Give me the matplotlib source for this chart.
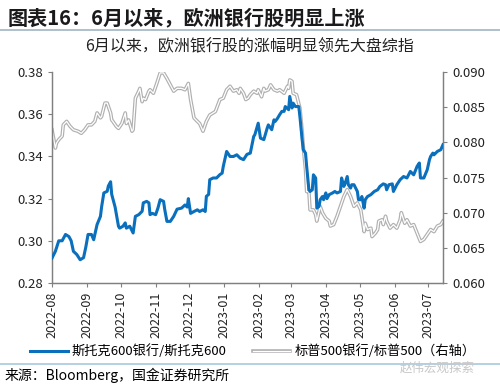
import datetime as dt
import matplotlib
matplotlib.use("Agg")
import matplotlib.pyplot as plt
import matplotlib.dates as mdates
from matplotlib.ticker import FuncFormatter

plt.rcParams['font.family'] = ['Noto Sans CJK SC', 'DejaVu Sans']

start = dt.date(2022, 8, 1)

# 斯托克600银行/斯托克600 (左轴)，横坐标为自 2022-08-01 起的天数
blue_days = [0, 3, 6, 9, 12, 15, 17, 19, 22, 25, 28, 30, 32, 35, 37, 40, 43, 44, 46, 49,
             50, 52, 53, 56, 59, 60, 63, 65, 66, 69, 72, 74, 77, 80, 81, 84, 86, 87, 89, 92,
             94, 96, 99, 100, 102, 105, 108, 111, 115, 118, 120, 121, 123, 126, 129, 131, 134, 136, 137, 139,
             140, 143, 146, 149, 151, 152, 155, 158, 161, 164, 167, 170, 173, 176, 179, 180, 183, 185, 188, 191,
             192, 195, 197, 198, 200, 202, 204, 206, 207, 210, 211, 213, 214, 216, 219, 220, 222, 223, 225, 226,
             228, 229, 231, 232, 234, 235, 237, 238, 240, 241, 243, 244, 246, 249, 251, 253, 256, 257, 259, 260,
             262, 263, 265, 266, 268, 271, 272, 274, 275, 277, 278, 280, 283, 286, 289, 291, 294, 296, 297, 299,
             302, 303, 306, 309, 312, 315, 318, 321, 324, 326, 327, 330, 333, 335, 336, 338, 339, 342, 345, 347]
blue_vals = [0.2918, 0.295, 0.300, 0.300, 0.303, 0.302, 0.300, 0.295, 0.2935, 0.291, 0.292, 0.297, 0.303, 0.303, 0.3005, 0.3077, 0.3116, 0.316, 0.3227, 0.3235,
             0.326, 0.328, 0.322, 0.316, 0.3069, 0.306, 0.3069, 0.3085, 0.306, 0.3069, 0.3037, 0.3116, 0.3124, 0.314, 0.318, 0.3187, 0.318, 0.3124, 0.313, 0.3124,
             0.3155, 0.3195, 0.3187, 0.315, 0.3092, 0.3092, 0.3116, 0.315, 0.3155, 0.317, 0.316, 0.320, 0.313, 0.3139, 0.3147, 0.3139, 0.3147, 0.3139, 0.3211, 0.322,
             0.329, 0.3298, 0.3298, 0.3314, 0.3321, 0.3353, 0.3424, 0.340, 0.340, 0.3408, 0.3392, 0.3385, 0.341, 0.3416, 0.3495, 0.3503, 0.3558, 0.3487, 0.348, 0.3535,
             0.355, 0.3527, 0.3574, 0.3566, 0.358, 0.3598, 0.3614, 0.3614, 0.3637, 0.3622, 0.3685, 0.363, 0.3653, 0.3637, 0.3637, 0.359, 0.348, 0.3432, 0.3416, 0.3353,
             0.3242, 0.3234, 0.3242, 0.3313, 0.3298, 0.3155, 0.3163, 0.3195, 0.321, 0.3195, 0.3227, 0.320, 0.3219, 0.3227, 0.3234, 0.3227, 0.3234, 0.3298, 0.3258, 0.327,
             0.3305, 0.3266, 0.325, 0.3266, 0.3266, 0.3234, 0.3195, 0.3195, 0.321, 0.3155, 0.3195, 0.321, 0.3219, 0.3234, 0.3242, 0.3258, 0.327, 0.3266, 0.3242, 0.3266,
             0.327, 0.3234, 0.3266, 0.329, 0.3305, 0.3298, 0.3329, 0.3313, 0.3353, 0.3369, 0.3298, 0.3298, 0.3337, 0.3385, 0.340, 0.3416, 0.3408, 0.3424, 0.3432, 0.3456]

# 标普500银行/标普500 (右轴)
gray_days = [0, 3, 4, 6, 9, 10, 13, 16, 19, 23, 26, 29, 32, 35, 38, 40, 43, 44, 47, 49,
             52, 53, 54, 57, 59, 62, 65, 66, 68, 71, 72, 74, 77, 78, 80, 81, 83, 86, 87, 90,
             93, 96, 99, 102, 105, 108, 111, 115, 118, 121, 123, 126, 129, 131, 134, 137, 140, 145, 149, 152,
             155, 158, 161, 164, 166, 167, 170, 172, 174, 176, 179, 182, 183, 186, 188, 189, 192, 194, 197, 200,
             202, 206, 209, 210, 211, 213, 214, 217, 220, 222, 223, 225, 226, 228, 229, 232, 234, 235, 238, 240,
             243, 246, 247, 250, 253, 256, 259, 262, 265, 268, 271, 274, 277, 278, 280, 283, 284, 287, 289, 290,
             293, 294, 296, 297, 300, 303, 306, 309, 310, 313, 315, 318, 321, 324, 327, 330, 333, 336, 339, 342,
             345, 347]
gray_vals = [0.0818, 0.0792, 0.0799, 0.0804, 0.0809, 0.0825, 0.0830, 0.0823, 0.0818, 0.0816, 0.0813, 0.0818, 0.0825, 0.0825, 0.0830, 0.0842, 0.0835, 0.0837, 0.0856, 0.0856,
             0.0842, 0.0832, 0.0830, 0.0823, 0.0820, 0.0827, 0.0842, 0.0827, 0.0832, 0.0816, 0.0818, 0.0863, 0.0873, 0.0877, 0.0858, 0.0863, 0.0861, 0.0873, 0.0875, 0.0870,
             0.0884, 0.0899, 0.0899, 0.0891, 0.0882, 0.0873, 0.0877, 0.0877, 0.0875, 0.0884, 0.0861, 0.0835, 0.0830, 0.0827, 0.0816, 0.0830, 0.0839, 0.0844, 0.0861, 0.0863,
             0.0875, 0.0880, 0.0873, 0.0875, 0.0870, 0.0877, 0.0870, 0.0861, 0.0863, 0.0868, 0.0873, 0.0870, 0.0875, 0.0865, 0.0877, 0.0873, 0.0875, 0.0882, 0.0875, 0.0873,
             0.0875, 0.0870, 0.0880, 0.0877, 0.0889, 0.0887, 0.0870, 0.0868, 0.0849, 0.0816, 0.0794, 0.0761, 0.0730, 0.0730, 0.0704, 0.0704, 0.0697, 0.0688, 0.0709, 0.0700,
             0.0692, 0.0688, 0.0681, 0.0683, 0.0695, 0.0709, 0.0723, 0.0733, 0.0723, 0.0709, 0.0714, 0.0704, 0.0673, 0.0685, 0.0676, 0.0678, 0.0666, 0.0671, 0.0676, 0.0688,
             0.0690, 0.0683, 0.0695, 0.0688, 0.0678, 0.0683, 0.0678, 0.0690, 0.0700, 0.0685, 0.0690, 0.0681, 0.0683, 0.0671, 0.0659, 0.0662, 0.0669, 0.0676, 0.0673, 0.0681,
             0.0683, 0.0688]

month_ticks = ["2022-08", "2022-09", "2022-10", "2022-11", "2022-12", "2023-01",
               "2023-02", "2023-03", "2023-04", "2023-05", "2023-06", "2023-07"]

blue_dates = [start + dt.timedelta(days=d) for d in blue_days]
gray_dates = [start + dt.timedelta(days=d) for d in gray_days]
tick_dates = [dt.datetime.strptime(m, "%Y-%m").date() for m in month_ticks]

BLUE = "#0a6fbd"
GRAY = "#b0b0b0"
AXC = "#808080"

fig = plt.figure(figsize=(5.0, 3.86), dpi=100)
ax = fig.add_axes([0.104, 0.267, 0.782, 0.546])
ax2 = ax.twinx()

ax.plot(blue_dates, blue_vals, color=BLUE, lw=2.2, zorder=3)
ax2.plot(gray_dates, gray_vals, color=GRAY, lw=2.6, solid_joinstyle='round')
ax2.plot(gray_dates, gray_vals, color="white", lw=0.9, solid_joinstyle='round')
ax.set_zorder(ax2.get_zorder() + 1)
ax.patch.set_visible(False)

ax.set_ylim(0.28, 0.38)
ax.set_yticks([0.28, 0.30, 0.32, 0.34, 0.36, 0.38])
ax2.set_ylim(0.060, 0.090)
ax2.set_yticks([0.060, 0.065, 0.070, 0.075, 0.080, 0.085, 0.090])
ax.yaxis.set_major_formatter(FuncFormatter(lambda v, p: f"{v:.2f}"))
ax2.yaxis.set_major_formatter(FuncFormatter(lambda v, p: f"{v:.3f}"))
ax.set_xlim(start, start + dt.timedelta(days=347))
ax.set_xticks(tick_dates)
ax.xaxis.set_major_formatter(mdates.DateFormatter("%Y-%m"))

for a in (ax, ax2):
    a.spines['top'].set_visible(False)
    for s in ('left', 'right', 'bottom'):
        a.spines[s].set_color(AXC)
        a.spines[s].set_linewidth(0.9)
    a.tick_params(colors="#222222", labelsize=9.5, length=3, width=0.8, direction='out')
    a.tick_params(axis='both', color=AXC)
ax.tick_params(axis='x', labelrotation=90, labelsize=9)

# 标题与注释
fig.text(0.016, 0.955, "图表16：6月以来，欧洲银行股明显上涨", fontsize=14.5, fontweight='bold',
         ha='left', va='center', color="#1a1a1a")
fig.add_artist(plt.Line2D([0, 1], [0.922, 0.922], color="#9fb4c6", lw=1.2))
fig.text(0.5, 0.88, "6月以来，欧洲银行股的涨幅明显领先大盘综指", fontsize=11.5, ha='center',
         va='center', color="#222222")

# 图例
fig.add_artist(plt.Line2D([0.06, 0.136], [0.091, 0.091], color=BLUE, lw=2.2))
fig.text(0.142, 0.091, "斯托克600银行/斯托克600", fontsize=9.5, ha='left', va='center')
fig.add_artist(plt.Line2D([0.506, 0.58], [0.091, 0.091], color=GRAY, lw=2.6))
fig.add_artist(plt.Line2D([0.506, 0.58], [0.091, 0.091], color="white", lw=0.9))
fig.text(0.59, 0.091, "标普500银行/标普500（右轴）", fontsize=9.5, ha='left', va='center')

fig.add_artist(plt.Line2D([0, 1], [0.058, 0.058], color="#a8c8dc", lw=1.2))
fig.text(0.01, 0.027, "来源：Bloomberg，国金证券研究所", fontsize=10, ha='left', va='center')
fig.text(0.8, 0.045, "赵伟宏观探索", fontsize=9, ha='left', va='center', color="#c8c8c8")

fig.savefig("out.png", dpi=100)
